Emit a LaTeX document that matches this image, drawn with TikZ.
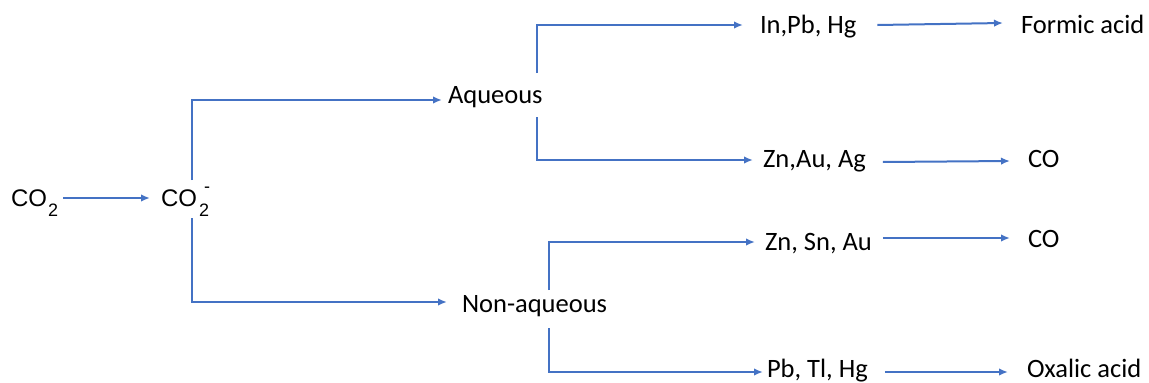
\documentclass[tikz,border=0pt]{standalone}
\usepackage{fontspec}
\setmainfont{Carlito}
\newfontfamily\arialf{Liberation Sans}
\usetikzlibrary{arrows.meta}
\definecolor{arrblue}{HTML}{4472C4}
\begin{document}
\begin{tikzpicture}[x=1pt,y=-1pt,
  lbl/.style={anchor=base west,inner sep=0pt,outer sep=0pt,text height=17pt,text depth=6pt,font=\fontsize{26.5}{30}\selectfont},
  chem/.style={anchor=base west,inner sep=0pt,outer sep=0pt,font=\arialf\fontsize{24}{28}\selectfont},
  arr/.style={draw=arrblue,line width=2pt,-{Latex[length=9pt,width=7.5pt]}}]
\useasboundingbox (0,0) rectangle (1149,383);
% nodes
\node[chem] (co2) at (11,206) {CO\kern1pt\raisebox{-10pt}{\fontsize{18}{18}\selectfont 2}};
\node[chem] (anion) at (161,206) {CO\kern2pt\rlap{\raisebox{-10pt}{\fontsize{18}{18}\selectfont 2}}\hspace{5pt}\raisebox{14pt}{\fontsize{18}{18}\selectfont -}};
\node[lbl] (aq) at (448,103) {Aqueous};
\node[lbl] (naq) at (462,312) {Non-aqueous};
\node[lbl] (m1) at (760,33) {In,Pb, Hg};
\node[lbl] (m2) at (763,167) {Zn,Au, Ag};
\node[lbl] (m3) at (765,250) {Zn, Sn, Au};
\node[lbl] (m4) at (767,377.5) {Pb, Tl, Hg};
\node[lbl] (p1) at (1021,33) {Formic acid};
\node[lbl] (p2) at (1028,167) {CO};
\node[lbl] (p3) at (1028,247) {CO};
\node[lbl] (p4) at (1027,377.5) {Oxalic acid};
% connectors
\draw[arr] ([xshift=5pt,yshift=8pt]co2.base east) -- ([xshift=-11pt,yshift=8pt]anion.base west);
\draw[arr] ([xshift=31pt,yshift=26pt]anion.base west) |- ([xshift=-6pt,yshift=-2.5pt]aq.west);
\draw[arr] ([xshift=31pt,yshift=-12pt]anion.base west) |- ([xshift=-15pt,yshift=4.5pt]naq.west);
\draw[arr] ([xshift=89pt,yshift=30pt]aq.base west) |- ([xshift=-17pt,yshift=2.5pt]m1.west);
\draw[arr] ([xshift=89pt,yshift=-14pt]aq.base west) |- ([xshift=-10pt,yshift=1.5pt]m2.west);
\draw[arr] ([xshift=87pt,yshift=22pt]naq.base west) |- ([xshift=-10pt,yshift=2.5pt]m3.west);
\draw[arr] ([xshift=87pt,yshift=-16pt]naq.base west) |- ([xshift=-4pt,yshift=0pt]m4.west);
\draw[arr] ([xshift=21pt,yshift=2.5pt]m1.east) -- ([xshift=-18pt,yshift=4.5pt]p1.west);
\draw[arr] ([xshift=17pt,yshift=-0.5pt]m2.east) -- ([xshift=-18pt,yshift=0.5pt]p2.west);
\draw[arr] ([xshift=11pt,yshift=6.5pt]m3.east) -- ([xshift=-18pt,yshift=3.5pt]p3.west);
\draw[arr] ([xshift=17pt,yshift=0pt]m4.east) -- ([xshift=-19pt,yshift=0pt]p4.west);
\end{tikzpicture}
\end{document}
